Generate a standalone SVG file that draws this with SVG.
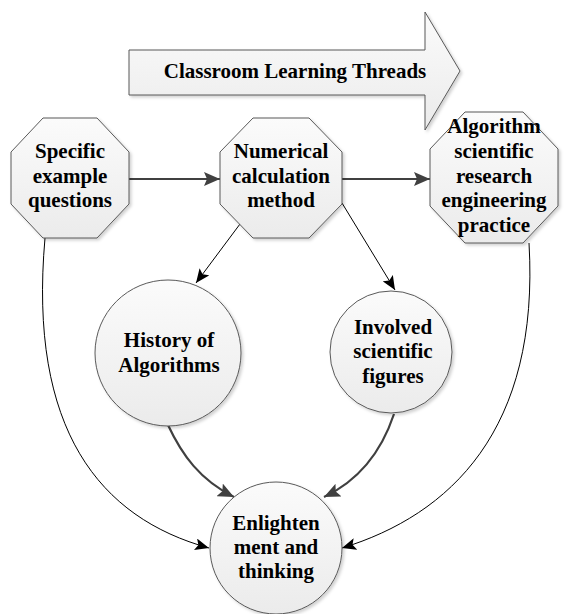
<svg xmlns="http://www.w3.org/2000/svg" width="568" height="614" viewBox="0 0 568 614">
  <defs>
    <linearGradient id="shapeFill" x1="0" y1="0" x2="0" y2="1">
      <stop offset="0" stop-color="#fbfbfb"/>
      <stop offset="1" stop-color="#ebebeb"/>
    </linearGradient>
    <filter id="softShadow" x="-10%" y="-10%" width="125%" height="125%">
      <feGaussianBlur in="SourceAlpha" stdDeviation="1.5"/>
      <feOffset dx="2" dy="2" result="off"/>
      <feFlood flood-color="#000" flood-opacity="0.18"/>
      <feComposite in2="off" operator="in"/>
      <feMerge>
        <feMergeNode/>
        <feMergeNode in="SourceGraphic"/>
      </feMerge>
    </filter>
    <marker id="headThin" markerUnits="userSpaceOnUse" viewBox="0 0 14 12" markerWidth="14" markerHeight="12" refX="14" refY="6" orient="auto">
      <path d="M0,0 L14,6 L0,12 L3,6 z" fill="#000"/>
    </marker>
    <marker id="headThick" markerUnits="userSpaceOnUse" viewBox="0 0 16 14" markerWidth="16" markerHeight="14" refX="16" refY="7" orient="auto">
      <path d="M0,0 L16,7 L0,14 L3,7 z" fill="#404040"/>
    </marker>
  </defs>
  <style>
    .shape { fill: url(#shapeFill); stroke: #595959; stroke-width: 1; filter: url(#softShadow); }
    .label { font-family: "Liberation Serif", "Times New Roman", serif; font-weight: bold; font-size: 21px; fill: #000; text-anchor: middle; }
    .thin { fill: none; stroke: #000; stroke-width: 1; marker-end: url(#headThin); }
    .thick { fill: none; stroke: #404040; stroke-width: 2.2; marker-end: url(#headThick); }
  </style>

  <!-- banner arrow -->
  <g id="banner">
    <polygon class="shape" points="129,50 425,50 425,12 460,71 425,130 425,95 129,95"/>
    <text class="label" x="295" y="78">Classroom Learning Threads</text>
  </g>

  <!-- connectors -->
  <g id="connectors">
    <path class="thick" d="M129,179 L220,179"/>
    <path class="thick" d="M342,179 L430,179"/>
    <path class="thin" d="M240,224 L196,283"/>
    <path class="thin" d="M342,203 L395,290"/>
    <path class="thin" d="M45,238 C28,430 100,518 209,548"/>
    <path class="thin" d="M529,243 C540,430 450,515 342,548"/>
    <path class="thick" d="M168,425 C182,455 200,480 234,497"/>
    <path class="thick" d="M394,414 C382,450 360,480 324,497"/>
  </g>

  <g id="specific">
    <polygon class="shape" points="43,118 97,118 129,152 129,204 97,238 43,238 11,204 11,152"/>
    <text class="label" x="70" y="158">Specific</text>
    <text class="label" x="70" y="183">example</text>
    <text class="label" x="70" y="207">questions</text>
  </g>

  <g id="numerical">
    <polygon class="shape" points="253,118 309,118 342,152 342,204 309,238 253,238 220,204 220,152"/>
    <text class="label" x="281" y="158">Numerical</text>
    <text class="label" x="281" y="183">calculation</text>
    <text class="label" x="281" y="207">method</text>
  </g>

  <g id="algorithm">
    <polygon class="shape" points="465,112 523,112 558,149 558,206 523,243 465,243 430,206 430,149"/>
    <text class="label" x="494" y="133">Algorithm</text>
    <text class="label" x="494" y="158">scientific</text>
    <text class="label" x="494" y="183">research</text>
    <text class="label" x="494" y="207">engineering</text>
    <text class="label" x="494" y="232">practice</text>
  </g>

  <g id="history">
    <circle class="shape" cx="168" cy="353" r="73"/>
    <text class="label" x="169" y="347">History of</text>
    <text class="label" x="169" y="372">Algorithms</text>
  </g>

  <g id="figures">
    <circle class="shape" cx="391" cy="352" r="61"/>
    <text class="label" x="393" y="334">Involved</text>
    <text class="label" x="393" y="358">scientific</text>
    <text class="label" x="393" y="383">figures</text>
  </g>

  <g id="enlighten">
    <circle class="shape" cx="276" cy="548" r="66"/>
    <text class="label" x="276" y="530">Enlighten</text>
    <text class="label" x="276" y="554">ment and</text>
    <text class="label" x="276" y="578">thinking</text>
  </g>
</svg>
